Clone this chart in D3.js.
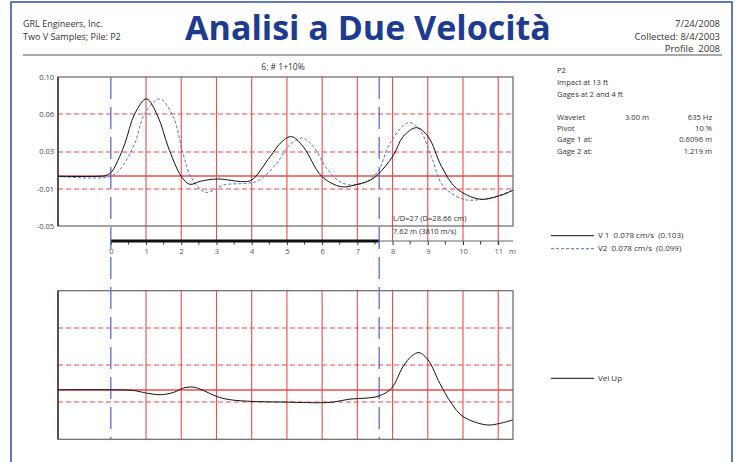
<!DOCTYPE html>
<html>
<head>
<meta charset="utf-8">
<script src="https://cdn.jsdelivr.net/npm/d3@7"></script>
<style>
  body { margin: 0; background: #fff; }
  svg { display: block; font-family: "Open Sans", "Noto Sans", sans-serif; }
  .small { fill: #333; font-size: 7.6px; }
  .legend { fill: #333; font-size: 8px; }
</style>
</head>
<body>
<svg id="chart" width="738" height="462"></svg>
<script>
// --- data (x in m, velocity in cm/s) ---
const v1X = [-1.5, -0.36, -0.15, 0.02, 0.2, 0.4, 0.68, 1.01, 1.34, 1.63, 2.0, 2.24, 2.57, 3.04, 3.76, 4.0, 4.52, 4.86, 5.13, 5.46, 5.99, 6.55, 7.02, 7.36, 7.59, 8.02, 8.3, 8.68, 9.01, 9.39, 9.81, 10.48, 11.04, 11.42];
const v1Y = [0, 0, 0.0008, 0.0043, 0.016, 0.033, 0.063, 0.078, 0.060, 0.0295, 0, -0.008, -0.0047, -0.0027, -0.0053, -0.0037, 0.0197, 0.035, 0.040, 0.030, 0, -0.0105, -0.0078, -0.004, 0.002, 0.021, 0.040, 0.049, 0.040, 0.010, -0.012, -0.023, -0.0195, -0.014];

const v2X = [-1.5, 0.0, 0.3, 0.68, 0.96, 1.39, 1.77, 2.05, 2.28, 2.67, 2.95, 3.19, 3.86, 4.19, 4.71, 5.04, 5.42, 5.75, 6.13, 6.5, 6.84, 7.2, 7.59, 7.92, 8.45, 8.77, 9.1, 9.44, 10.0, 10.29, 10.85, 11.42];
const v2Y = [0, 0, 0.009, 0.033, 0.063, 0.078, 0.060, 0.023, -0.001, -0.016, -0.0135, -0.0088, -0.007, -0.0044, 0.013, 0.030, 0.0385, 0.030, 0.008, -0.0053, -0.0088, -0.0065, 0.005, 0.033, 0.054, 0.047, 0.020, -0.010, -0.023, -0.024, -0.021, -0.014];

const velX = [-1.5, 0, 0.64, 1.02, 1.40, 1.78, 2.06, 2.33, 2.63, 3.0, 3.38, 4.05, 4.9, 5.94, 6.32, 6.79, 7.26, 7.62, 7.97, 8.3, 8.54, 8.75, 9.01, 9.34, 9.67, 10.0, 10.67, 11.04, 11.41];
const velY = [0, 0, -0.0007, -0.0034, -0.005, -0.0027, 0.0017, 0.0027, -0.0007, -0.0067, -0.010, -0.0118, -0.0124, -0.0131, -0.0124, -0.0094, -0.0084, -0.0062, 0.0015, 0.0235, 0.034, 0.0375, 0.030, 0.0066, -0.0136, -0.027, -0.0355, -0.034, -0.0305];

const yTickValues = [-0.05, -0.0125, 0.025, 0.0625, 0.10];
const yTickLabels = ["-0.05", "-0.01", "0.03", "0.06", "0.10"];
const xTickValues = [0, 1, 2, 3, 4, 5, 6, 7, 8, 9, 10, 11];
const xMinorTicks = [0.5, 1.5, 2.5, 3.5, 4.5, 5.5, 6.5, 7.5, 8.5, 9.5, 10.5, 11];
const gridDashed = [-0.0125, 0.025, 0.0625];
const markers = [0, 7.62];   // toe line and pile length

const infoLines = ["P2", "Impact at 13 ft", "Gages at 2 and 4 ft"];
const paramNames = ["Wavelet", "Pivot", "Gage 1 at:", "Gage 2 at:"];
const paramMid = ["3.00 m", "", "", ""];
const paramVals = ["635 Hz", "10 %", "0.6096 m", "1.219 m"];

const COLORS = {
  frame: '#2a4cae',
  title: '#1d3c91',
  red: '#ee3a3a',
  redDash: '#f04848',
  blue: '#5a6fc4',
  v2: '#5b72c8'
};

const svg = d3.select('#chart');
// horizontal grid sits on whole pixels so it spreads over two rows (keeps its colour)
const snap = v => Math.round(v);

// page frame + header
svg.append('rect').attr('x', 11).attr('y', 2).attr('width', 721).attr('height', 470)
  .attr('fill', 'none').attr('stroke', COLORS.frame).attr('stroke-width', 1.5);
svg.append('line').attr('x1', 23).attr('x2', 722).attr('y1', 55).attr('y2', 55)
  .attr('stroke', '#555').attr('stroke-width', 1);

svg.append('text').attr('x', 23).attr('y', 27).attr('font-size', 9).attr('fill', '#333').text('GRL Engineers, Inc.');
svg.append('text').attr('x', 23).attr('y', 39.5).attr('font-size', 9).attr('fill', '#333').text('Two V Samples; Pile: P2');
svg.append('text').attr('x', 368).attr('y', 40).attr('text-anchor', 'middle')
  .attr('font-size', 34).attr('font-weight', 'bold').attr('fill', COLORS.title)
  .text('Analisi a Due Velocità');
[['7/24/2008', 27], ['Collected: 8/4/2003', 39.5], ['Profile  2008', 52]].forEach(([t, y]) => {
  svg.append('text').attr('x', 720).attr('y', y).attr('text-anchor', 'end')
    .attr('font-size', 9.5).attr('fill', '#333').attr('xml:space', 'preserve').text(t);
});

// scales
const x = d3.scaleLinear().domain([-1.5, 11.42]).range([58, 513]);
const yTop = d3.scaleLinear().domain([-0.05, 0.10]).range([226, 77]);
const yBot = d3.scaleLinear().domain([-0.05, 0.10]).range([439.3, 290.7]);

const defs = svg.append('defs');
defs.append('clipPath').attr('id', 'clip-top').append('rect')
  .attr('x', 58).attr('y', 77).attr('width', 455).attr('height', 149);
defs.append('clipPath').attr('id', 'clip-bot').append('rect')
  .attr('x', 58).attr('y', 290.7).attr('width', 455).attr('height', 148.6);

const drawGrid = (y, gridBottom) => {
  const g = svg.append('g');
  g.selectAll('line.vgrid').data(xTickValues.filter(d => d > 0)).join('line')
    .attr('class', 'vgrid')
    .attr('x1', d => x(d)).attr('x2', d => x(d))
    .attr('y1', y.range()[1]).attr('y2', gridBottom)
    .attr('stroke', COLORS.red).attr('stroke-width', 1.1).attr('opacity', 0.9);
  g.selectAll('line.hdash').data(gridDashed).join('line')
    .attr('class', 'hdash')
    .attr('x1', x.range()[0]).attr('x2', x.range()[1])
    .attr('y1', d => snap(y(d))).attr('y2', d => snap(y(d)))
    .attr('stroke', COLORS.redDash).attr('stroke-width', 1.2).attr('stroke-dasharray', '5,3');
  g.append('line').attr('x1', x.range()[0]).attr('x2', x.range()[1])
    .attr('y1', snap(y(0))).attr('y2', snap(y(0)))
    .attr('stroke', COLORS.red).attr('stroke-width', 1.3).attr('opacity', 0.9);
  // frame
  g.append('rect').attr('x', x.range()[0]).attr('y', y.range()[1])
    .attr('width', x.range()[1] - x.range()[0]).attr('height', y.range()[0] - y.range()[1])
    .attr('fill', 'none').attr('stroke', '#666').attr('stroke-width', 1.2);
  g.append('line').attr('x1', x.range()[0]).attr('x2', x.range()[0])
    .attr('y1', y.range()[1]).attr('y2', y.range()[0])
    .attr('stroke', '#3a2222').attr('stroke-width', 1.3);
};

drawGrid(yTop, 241);
drawGrid(yBot, yBot.range()[0]);

// y axis labels (upper plot only)
svg.append('g').attr('transform', `translate(58,0)`)
  .call(d3.axisLeft(yTop).tickValues(yTickValues).tickSize(0).tickPadding(4)
    .tickFormat((d, i) => yTickLabels[i]))
  .call(g => g.select('.domain').remove())
  .call(g => g.selectAll('text').attr('font-size', 7.5).attr('fill', '#444')
    .attr('font-family', '"Open Sans", sans-serif'));

// upper title
svg.append('text').attr('x', 283).attr('y', 70).attr('text-anchor', 'middle')
  .attr('font-size', 8.5).attr('fill', '#333').text('6: # 1+10%');

// length axis
const axisY = 241;
const xAxis = svg.append('g').attr('transform', `translate(0,${axisY})`)
  .call(d3.axisBottom(x).tickValues(xTickValues).tickSize(4).tickPadding(4))
  .call(g => g.select('.domain').remove())
  .call(g => g.selectAll('line').attr('stroke', '#333'))
  .call(g => g.selectAll('text').attr('font-size', 7.5).attr('fill', '#555')
    .attr('font-family', '"Open Sans", sans-serif'));
xAxis.selectAll('line.minor').data(xMinorTicks).join('line')
  .attr('class', 'minor')
  .attr('x1', d => x(d)).attr('x2', d => x(d)).attr('y1', 0).attr('y2', 3.5)
  .attr('stroke', '#333');
svg.append('line').attr('x1', x(0)).attr('x2', x.range()[1]).attr('y1', axisY).attr('y2', axisY)
  .attr('stroke', '#666').attr('stroke-width', 1);
svg.append('line').attr('x1', x(0)).attr('x2', x(markers[1])).attr('y1', axisY).attr('y2', axisY)
  .attr('stroke', '#111').attr('stroke-width', 3);
svg.append('text').attr('x', 509).attr('y', axisY + 13).attr('font-size', 7.5).attr('fill', '#555').text('m');

svg.append('text').attr('x', 393).attr('y', 221).attr('class', 'small').text('L/D=27 (D=28.66 cm)');
svg.append('text').attr('x', 393).attr('y', 234).attr('class', 'small').text('7.62 m (3810 m/s)');

// blue marker lines spanning both plots
svg.selectAll('line.marker').data(markers).join('line')
  .attr('class', 'marker')
  .attr('x1', d => x(d)).attr('x2', d => x(d)).attr('y1', 77).attr('y2', 440)
  .attr('stroke', COLORS.blue).attr('stroke-width', 1.3).attr('stroke-dasharray', '22,8');

// curves
const toPoints = (xs, ys) => xs.map((d, i) => [d, ys[i]]);
const lineTop = d3.line().x(d => x(d[0])).y(d => yTop(d[1])).curve(d3.curveCatmullRom.alpha(0.5));
const lineBot = d3.line().x(d => x(d[0])).y(d => yBot(d[1])).curve(d3.curveCatmullRom.alpha(0.5));

svg.append('path').attr('clip-path', 'url(#clip-top)').attr('d', lineTop(toPoints(v2X, v2Y)))
  .attr('fill', 'none').attr('stroke', COLORS.v2).attr('stroke-width', 1).attr('stroke-dasharray', '3,2');
svg.append('path').attr('clip-path', 'url(#clip-top)').attr('d', lineTop(toPoints(v1X, v1Y)))
  .attr('fill', 'none').attr('stroke', '#111').attr('stroke-width', 1);
svg.append('path').attr('clip-path', 'url(#clip-bot)').attr('d', lineBot(toPoints(velX, velY)))
  .attr('fill', 'none').attr('stroke', '#111').attr('stroke-width', 1);

// info panel
infoLines.forEach((t, i) => {
  svg.append('text').attr('x', 557).attr('y', 72.5 + i * 12.2).attr('class', 'small').text(t);
});
paramNames.forEach((t, i) => {
  const y = 119.5 + i * 11.4;
  svg.append('text').attr('x', 557).attr('y', y).attr('class', 'small').text(t);
  if (paramMid[i]) svg.append('text').attr('x', 625).attr('y', y).attr('class', 'small').text(paramMid[i]);
  svg.append('text').attr('x', 712).attr('y', y).attr('class', 'small').attr('text-anchor', 'end').text(paramVals[i]);
});

// legends
const legend = [
  { y: 235.7, label: 'V 1  0.078 cm/s  (0.103)', color: '#111', dash: null },
  { y: 248.7, label: 'V2  0.078 cm/s  (0.099)', color: COLORS.v2, dash: '3,2' },
  { y: 378.3, label: 'Vel Up', color: '#111', dash: null }
];
legend.forEach(l => {
  svg.append('line').attr('x1', 551).attr('x2', 594).attr('y1', l.y).attr('y2', l.y)
    .attr('stroke', l.color).attr('stroke-width', 1).attr('stroke-dasharray', l.dash);
  svg.append('text').attr('x', 598).attr('y', l.y + 2.7).attr('class', 'legend')
    .attr('xml:space', 'preserve').text(l.label);
});
</script>
</body>
</html>
